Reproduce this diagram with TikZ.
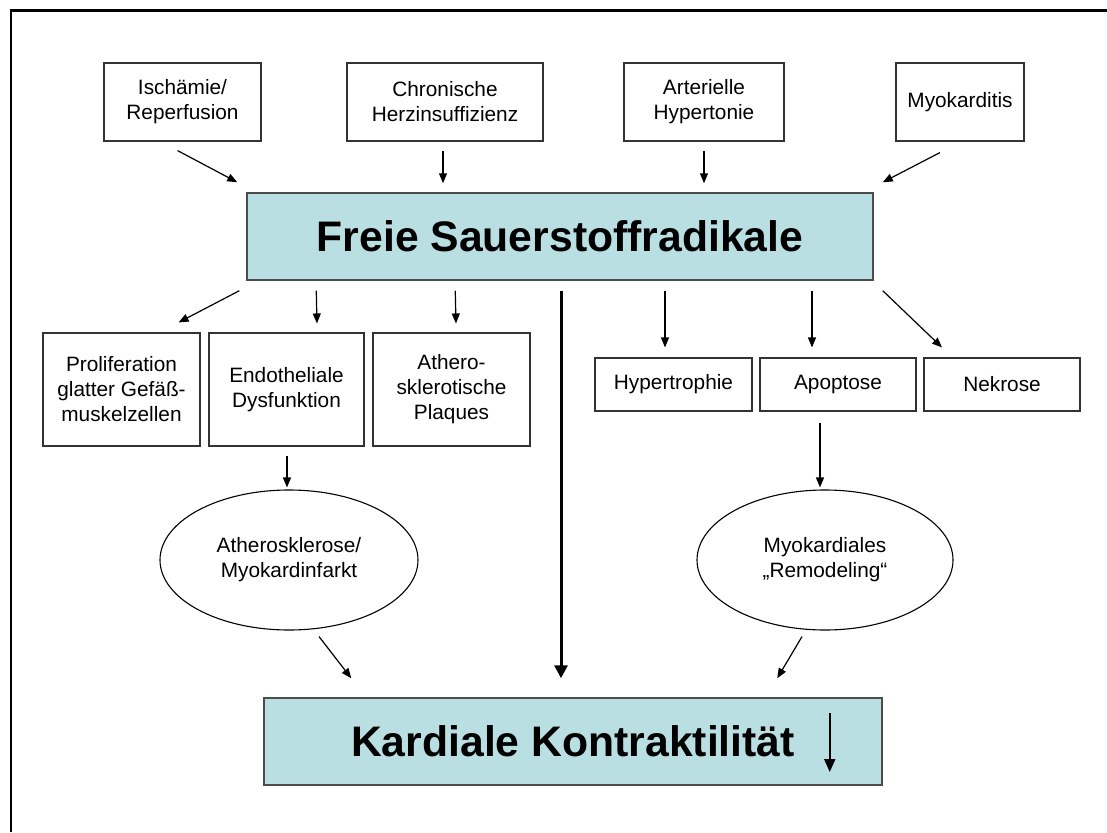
\documentclass[tikz,border=0pt]{standalone}
\usepackage{fontspec}
\setmainfont{Liberation Sans}
\usetikzlibrary{arrows.meta,shapes.geometric,calc}
\definecolor{boxblue}{RGB}{185,223,227}
\begin{document}
\begin{tikzpicture}[x=1pt,y=-1pt,
  smallbox/.style={draw=black!80, line width=1.1pt, inner sep=0pt, align=center,
    font=\fontsize{20.8}{25}\selectfont},
  bigbox/.style={draw=black!70, line width=1.5pt, fill=boxblue, inner sep=0pt,
    font=\fontsize{42.7}{50}\selectfont\bfseries},
  ellnode/.style={draw=black, line width=1.1pt, ellipse, inner sep=0pt, align=center,
    font=\fontsize{20.8}{25}\selectfont},
  arr/.style={line width=1.2pt, -{Triangle[length=10pt,width=8pt]}},
  thickarr/.style={line width=3pt, -{Triangle[length=13pt,width=13pt]}},
  kardarr/.style={line width=2pt, -{Triangle[length=13pt,width=11pt]}},
]
\useasboundingbox (0,0) rectangle (1107,832);
\draw[line width=2.7pt] (11,832) -- (11,10.5) -- (1107,10.5);

% top row
\node[smallbox, minimum width=157pt, minimum height=78pt] (isch) at (182.5,102) {Ischämie/\\Reperfusion};
\node[smallbox, minimum width=196pt, minimum height=78pt] (chron) at (445,102) {Chronische\\Herzinsuffizienz};
\node[smallbox, minimum width=160pt, minimum height=78pt] (art) at (704,102) {Arterielle\\Hypertonie};
\node[smallbox, minimum width=128pt, minimum height=78pt] (myo) at (960,102) {Myokarditis};

% central box
\node[bigbox, minimum width=626pt, minimum height=87pt] (fsr) at (560,236.5) {Freie Sauerstoffradikale};

% left row
\node[smallbox, minimum width=157pt, minimum height=113pt] (prol) at (121.5,389.5) {Proliferation\\glatter Gefäß-\\muskelzellen};
\node[smallbox, minimum width=155pt, minimum height=113pt] (endo) at (286.5,389.5) {Endotheliale\\Dysfunktion};
\node[smallbox, minimum width=157pt, minimum height=113pt] (ath) at (451.5,389.5) {Athero-\\sklerotische\\Plaques};

% right row
\node[smallbox, minimum width=157pt, minimum height=53pt] (hyp) at (673.5,384.5) {Hypertrophie};
\node[smallbox, minimum width=156pt, minimum height=53pt] (apo) at (838,384.5) {Apoptose};
\node[smallbox, minimum width=156pt, minimum height=53pt] (nek) at (1002,384.5) {Nekrose};

% ellipses
\node[ellnode, minimum width=258pt, minimum height=140pt] (ell1) at (289,560) {Atherosklerose/\\Myokardinfarkt};
\node[ellnode, minimum width=256pt, minimum height=140pt] (ell2) at (825,560) {Myokardiales\\„Remodeling“};

% bottom box
\node[bigbox, minimum width=618pt, minimum height=87pt] (kard) at (573,741.5) {Kardiale Kontraktilität};
\draw[kardarr] ($(kard.east)+(-53,-28.5)$) -- ($(kard.east)+(-53,30.5)$);

% arrows into central box
\draw[arr] ($(isch.south)+(-5,9)$) -- ($(fsr.north west)+(-9,-10)$);
\draw[arr] ($(chron.south)+(-2,9)$) -- ($(chron.south |- fsr.north)+(-2,-9)$);
\draw[arr] ($(art.south)+(0,9)$) -- ($(art.south |- fsr.north)+(0,-9)$);
\draw[arr] ($(myo.south)+(-20,11)$) -- ($(fsr.north east)+(9,-10)$);

% arrows out of central box
\draw[arr] ($(fsr.south west)+(-7,10)$) -- ($(prol.north east)+(-22,-10)$);
\draw[arr] ($(fsr.south west)+(70,10)$) -- ($(endo.north)+(30.5,-9)$);
\draw[arr] ($(fsr.south west)+(209,10)$) -- ($(ath.north)+(4.5,-9)$);
\draw[thickarr] ($(fsr.south)+(1,10)$) -- ($(kard.north)+(-12,-19)$);
\draw[arr] ($(fsr.south)+(105,10)$) -- ($(hyp.north)+(-8.5,-10)$);
\draw[arr] ($(fsr.south)+(252,10)$) -- ($(apo.north)+(-26,-10)$);
\draw[arr] ($(fsr.south east)+(9,10)$) -- ($(nek.north)+(-60,-10)$);

% to ellipses
\draw[arr] ($(endo.south)+(0.5,9)$) -- ($(ell1.north)+(-2,-2)$);
\draw[arr] ($(apo.south)+(-18,11)$) -- ($(ell2.north)+(-5,-2)$);

% ellipses to bottom box
\draw[arr] ($(ell1.south)+(30,6)$) -- ($(kard.north west)+(88,-19)$);
\draw[arr] ($(ell2.south)+(-23,6)$) -- ($(kard.north west)+(514,-19)$);
\end{tikzpicture}
\end{document}
